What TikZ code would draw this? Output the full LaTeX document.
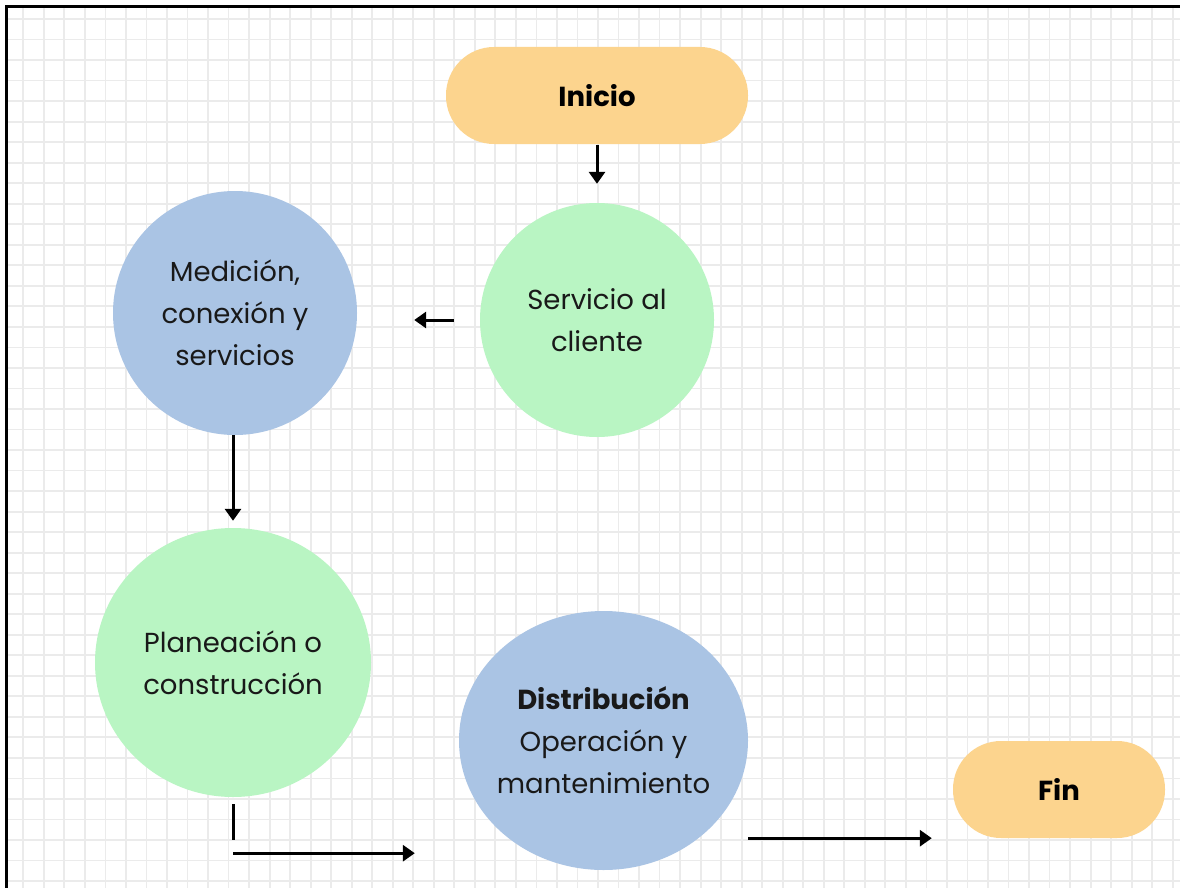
\documentclass[tikz,border=0pt]{standalone}
\usepackage{fontspec}
\setmainfont{Poppins}
\usetikzlibrary{arrows.meta,shapes.geometric}
\definecolor{cyellow}{HTML}{FCD48E}
\definecolor{cgreen}{HTML}{B9F5C3}
\definecolor{cblue}{HTML}{AAC4E4}
\definecolor{cgrid}{HTML}{EBEBEB}
\tikzset{
  txt/.style={font=\fontsize{27.5}{42}\selectfont, align=center, text=black!90},
  pill/.style={rectangle, rounded corners=48pt, fill=cyellow, inner sep=0pt, text=black, font=\bfseries\fontsize{27.5}{42}\selectfont},
  gcircle/.style={circle, fill=cgreen, inner sep=0pt, txt},
  bcircle/.style={circle, fill=cblue, inner sep=0pt, txt},
  oval/.style={ellipse, inner xsep=-30pt, inner ysep=0pt, txt},
  conn/.style={line width=3pt, -{Triangle[length=12pt,width=16pt]}},
  plainline/.style={line width=3pt},
}
\begin{document}
\begin{tikzpicture}[x=1pt,y=-1pt]
\useasboundingbox (0,0) rectangle (1180,888);
\fill[white] (0,0) rectangle (1180,888);
% grid
\foreach \i in {0,...,56} {
  \draw[cgrid, line width=1.8pt] (23.3+\i*20.525,6) -- (23.3+\i*20.525,888);
}
\foreach \j in {0,...,42} {
  \draw[cgrid, line width=1.8pt] (6,19+\j*20.525) -- (1180,19+\j*20.525);
}
% border
\draw[black, line width=2.5pt] (6.5,888) -- (6.5,6.5) -- (1180,6.5);

% nodes
\node[pill, minimum width=302pt, minimum height=97pt] (ini) at (597,95.5) {Inicio};
\node[gcircle, minimum size=234pt] (serv) at (597,320) {Servicio al\\cliente};
\node[bcircle, minimum size=244pt] (med) at (235,313) {Medición,\\conexión y\\servicios};
\node[oval, fill=cgreen, minimum width=276pt, minimum height=269pt] (plan) at (233,662.5) {Planeación o\\construcción};
\node[oval, fill=cblue, minimum width=289pt, minimum height=259pt] (dist) at (603.5,740.5) {\textbf{Distribución}\\Operación y\\mantenimiento};
\node[pill, minimum width=212pt, minimum height=97pt] (fin) at (1059,789.5) {Fin};

% connectors
\draw[conn, shorten <=1pt, shorten >=19pt] (ini.south) -- (serv.north);
\draw[conn, shorten <=26pt, shorten >=57pt] (serv.west) -- (serv.west -| med.east);
\draw[conn, shorten >=7pt] (med.south -| plan.north) -- (plan.north);
\coordinate (p1) at ([yshift=-7pt]plan.south);
\coordinate (p2) at ([yshift=-43pt]plan.south);
\coordinate (p3) at ([yshift=-56pt]plan.south);
\draw[plainline] (p1) -- (p2);
\draw[conn, shorten >=44pt] (p3) -- (p3 -| dist.west);
\coordinate (d1) at (dist.east |- fin.south);
\draw[conn, shorten >=21pt] (d1) -- (fin.south west);
\end{tikzpicture}
\end{document}
